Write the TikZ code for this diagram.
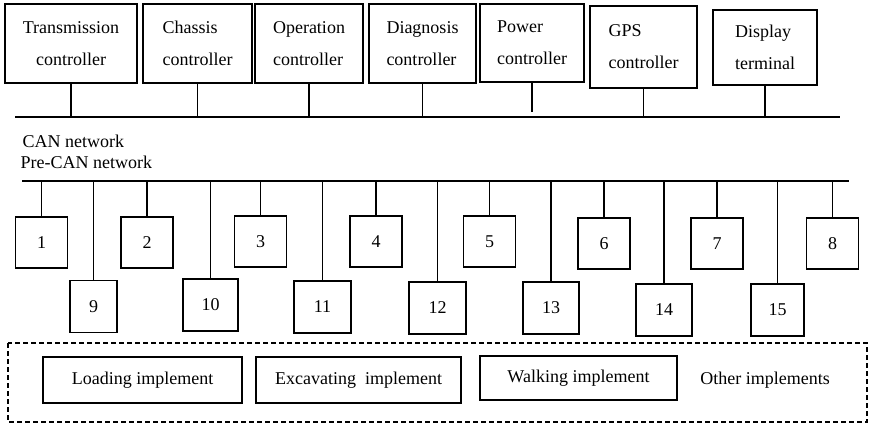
\documentclass[tikz,border=0pt]{standalone}
\usepackage{fontspec}
\setmainfont{Liberation Serif}
\usepackage{tikz}
\usetikzlibrary{positioning,calc}

\begin{document}
\begin{tikzpicture}[x=1pt,y=-1pt,line width=1.1pt,font=\fontsize{18}{32}\selectfont]
        \tikzstyle{ctrl} = [rectangle, draw, inner sep=0pt, outer sep=0pt, minimum height=79pt, align=left]
        \tikzstyle{unit} = [rectangle, draw, inner sep=0pt, outer sep=0pt, minimum width=52pt, minimum height=51pt]
        \tikzstyle{unit2} = [unit, minimum width=55pt, minimum height=52pt]
        \tikzstyle{impl} = [rectangle, draw, inner sep=0pt, outer sep=0pt, minimum height=46pt]

        \useasboundingbox (0,0) rectangle (869,424);

        % Controllers
        \node[ctrl, minimum width=132pt, align=center] (tc) at (71,43.5) {Transmission\\controller};
        \node[ctrl, minimum width=109pt] (cc) at (197.5,43.5) {Chassis\\controller};
        \node[ctrl, minimum width=108pt] (oc) at (309,43.5) {Operation\\controller};
        \node[ctrl, minimum width=107pt] (dc) at (422.5,43.5) {Diagnosis\\controller};
        \node[ctrl, minimum width=104pt, minimum height=78pt] (pc) at (532,43) {Power\\controller};
        \node[ctrl, minimum width=107pt, minimum height=82pt] (gc) at (643.5,47) {GPS\\controller};
        \node[ctrl, minimum width=104pt, minimum height=75pt] (dt) at (765,47.5) {Display\\terminal};

        % Buses
        \coordinate (canL) at (15,117);
        \coordinate (canR) at (840,117);
        \coordinate (preL) at (22,181);
        \coordinate (preR) at (849,181);
        \draw (canL) -- (canR);
        \draw (preL) -- (preR);
        \node[anchor=base west, inner sep=0pt] (canlbl) at (22,147) {CAN network};
        \node[anchor=base west, inner sep=0pt] (precanlbl) at (20,168) {Pre-CAN network};

        % Units
        \node[unit] (u1) at (41.5,242.5) {1};
        \node[unit] (u2) at (147,242.5) {2};
        \node[unit] (u3) at (260.5,241.5) {3};
        \node[unit] (u4) at (376,241.5) {4};
        \node[unit] (u5) at (489.5,241.5) {5};
        \node[unit] (u6) at (604,243.5) {6};
        \node[unit] (u7) at (717,243.5) {7};
        \node[unit] (u8) at (832.5,243.5) {8};
        \node[unit2, minimum width=47pt] (u9) at (93.5,306.5) {9};
        \node[unit2] (u10) at (210.5,305) {10};
        \node[unit2, minimum width=57pt] (u11) at (322.5,307) {11};
        \node[unit2, minimum width=57pt] (u12) at (437.5,308) {12};
        \node[unit2, minimum width=56pt] (u13) at (551,308) {13};
        \node[unit2, minimum width=56pt] (u14) at (664,310) {14};
        \node[unit2, minimum width=53pt] (u15) at (777.5,310) {15};

        % Implements
        \draw[dash pattern=on 5pt off 3pt, line width=1.2pt] (8,343) rectangle (867,422);
        \node[impl, minimum width=199pt] (load) at (142.5,380) {Loading implement};
        \node[impl, minimum width=205pt] (exc) at (358.5,380) {Excavating~ implement};
        \node[impl, minimum width=197pt, minimum height=44pt] (walk) at (578.5,378) {Walking implement};
        \node (other) at (765,380) {Other implements};

        % Edges
        \path (tc) edge (tc |- canL);
        \path (cc) edge (cc |- canL);
        \path (oc) edge (oc |- canL);
        \path (dc) edge (dc |- canL);
        \path (pc) edge ([yshift=5pt]pc |- canL);
        \path (gc) edge (gc |- canL);
        \path (dt) edge (dt |- canL);
        \foreach \u in {u1,u2,u3,u4,u5,u6,u7,u8,u9,u10,u11,u12,u13,u14,u15}
            \path (\u) edge (\u |- preL);
    \end{tikzpicture}
\end{document}
